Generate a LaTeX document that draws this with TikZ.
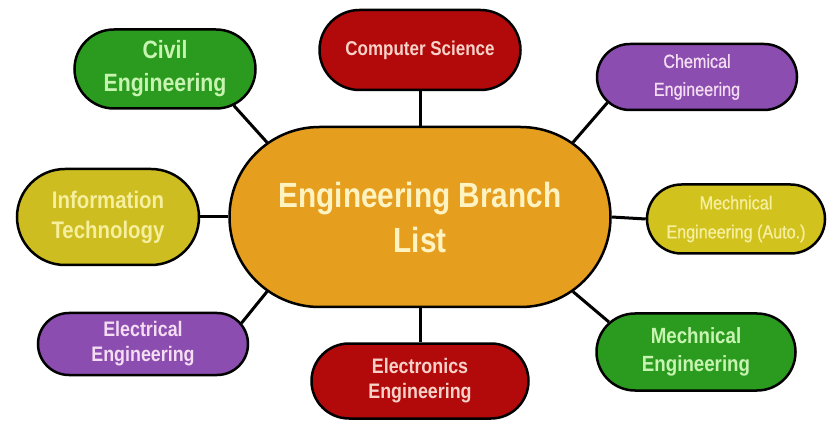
\documentclass[tikz,border=0pt]{standalone}
\usepackage{fontspec}
\newfontfamily\branchfont[FakeStretch=0.85]{Liberation Sans}
\newfontfamily\branchmed[FakeStretch=0.85,FakeBold=0.8]{Liberation Sans}
\usetikzlibrary{shapes.misc}

\definecolor{hubfill}{HTML}{E59E1E}
\definecolor{hubtext}{HTML}{FFF3C2}
\definecolor{grnfill}{HTML}{2B9B1F}
\definecolor{grntext}{HTML}{C8F4B2}
\definecolor{redfill}{HTML}{B2090B}
\definecolor{redtext}{HTML}{F7D2C8}
\definecolor{purfill}{HTML}{8B4DAF}
\definecolor{purtext}{HTML}{F4DDF2}
\definecolor{yelfill}{HTML}{CDBD20}
\definecolor{yeltext}{HTML}{F6EF9E}

\begin{document}
\begin{tikzpicture}[x=1pt, y=-1pt,
    branch/.style={rounded rectangle, draw=black, line width=2.5pt, align=center, inner sep=0pt},
    link/.style={draw=black, line width=3pt}]

	\useasboundingbox (0,0) rectangle (832,427);

	% Draw the central node
	\node[branch, fill=hubfill, text=hubtext, minimum width=381pt, minimum height=180pt,
		font=\branchfont\bfseries\fontsize{35}{45}\selectfont] (hub) at (420,217) {Engineering Branch\\List};

	% Draw the branches round it
	\node[branch, fill=grnfill, text=grntext, minimum width=181pt, minimum height=79pt,
		font=\branchfont\bfseries\fontsize{25}{33}\selectfont] (civil) at (165,69) {Civil\\Engineering};
	\node[branch, fill=redfill, text=redtext, minimum width=201pt, minimum height=80pt,
		font=\branchfont\bfseries\fontsize{20}{24}\selectfont] (cs) at (420,50) {Computer Science};
	\node[branch, fill=purfill, text=purtext, minimum width=200pt, minimum height=66pt,
		font=\branchmed\fontsize{19}{28}\selectfont] (chem) at (697,77) {Chemical\\Engineering};
	\node[branch, fill=yelfill, text=yeltext, minimum width=182pt, minimum height=96pt,
		font=\branchfont\bfseries\fontsize{24}{30}\selectfont] (it) at (108,217) {Information\\Technology};
	\node[branch, fill=yelfill!92!yellow, text=yeltext, minimum width=178pt, minimum height=69pt,
		font=\branchmed\fontsize{19}{29}\selectfont] (auto) at (736,219) {Mechnical\\Engineering (Auto.)};
	\node[branch, fill=purfill, text=purtext, minimum width=210pt, minimum height=62pt,
		font=\branchfont\bfseries\fontsize{21}{25}\selectfont] (elec) at (143,344) {Electrical\\Engineering};
	\node[branch, fill=redfill, text=redtext, minimum width=217pt, minimum height=75pt,
		font=\branchfont\bfseries\fontsize{21}{25}\selectfont] (etc) at (420,381) {Electronics\\Engineering};
	\node[branch, fill=grnfill, text=grntext, minimum width=199pt, minimum height=77pt,
		font=\branchfont\bfseries\fontsize{22}{28}\selectfont] (mech) at (696,352) {Mechnical\\Engineering};

	% Draw the links from the hub
	\draw[link] (hub.154) -- (civil.-28);
	\draw[link] (hub.north) -- (cs.south);
	\draw[link] (hub.26) -- (chem.196);
	\draw[link] (hub.west) -- (it.east);
	\draw[link] (hub.east) -- (auto.west);
	\draw[link] (hub.206) -- (elec.12);
	\draw[link] (hub.south) -- (etc.north);
	\draw[link] (hub.-26) -- (mech.161);

\end{tikzpicture}
\end{document}
